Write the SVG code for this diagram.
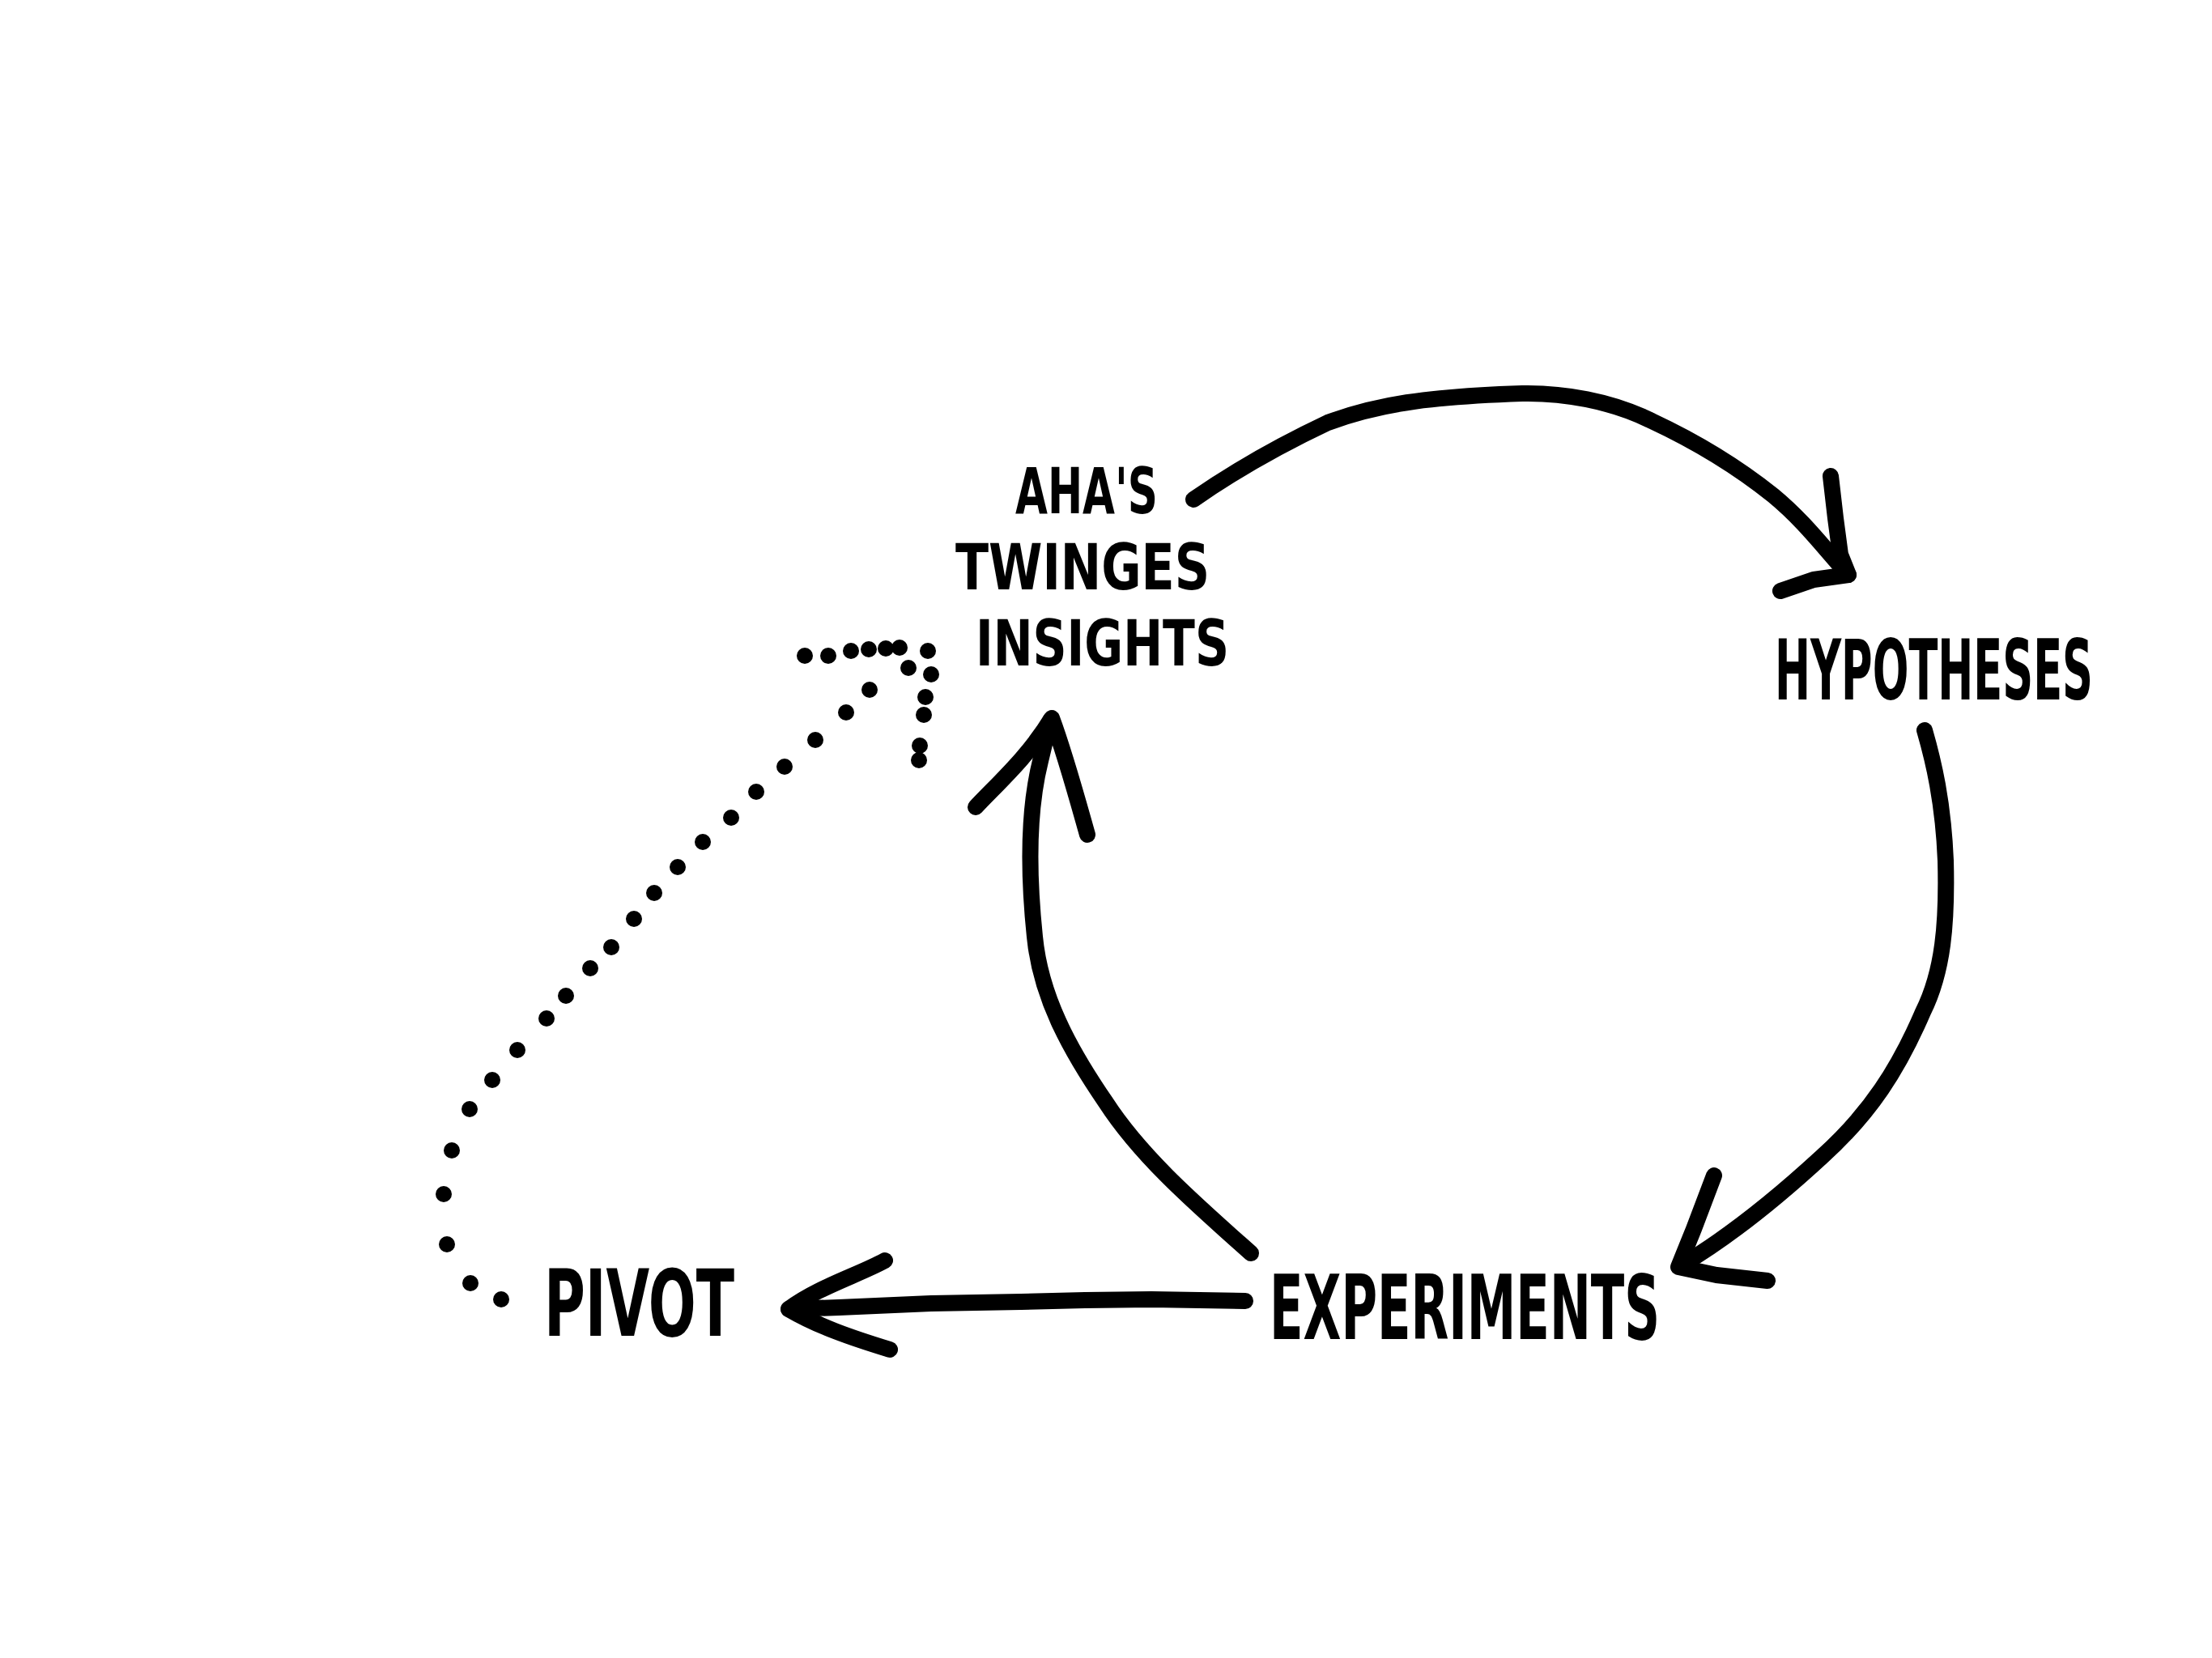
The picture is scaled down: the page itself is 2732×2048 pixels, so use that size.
<svg xmlns="http://www.w3.org/2000/svg" width="2732" height="2048" viewBox="0 0 2732 2048">
<style>
.bg{fill:#ffffff}
.lbl{font-family:"DejaVu Sans Condensed","DejaVu Sans","Liberation Sans",sans-serif;font-weight:bold;fill:#000}
.stack{font-size:79px}
.stroke{fill:none;stroke:#000;stroke-width:20;stroke-linecap:round;stroke-linejoin:round}
.dot{fill:#000}
</style>
<rect class="bg" x="0" y="0" width="2732" height="2048"/>
<g id="connectors">
  <g id="edge-insights-hypotheses">
    <path class="stroke" d="M1474,617 C1520,585 1570,555 1640,522 C1700,500 1760,490 1880,486 C1930,485 1990,495 2040,520 C2100,548 2150,580 2190,612 C2230,645 2255,680 2283,710"/>
    <path class="stroke" d="M2261,588 L2267,640 L2273,685 L2283,710 L2240,716 L2199,730"/>
  </g>
  <g id="edge-hypotheses-experiments">
    <path class="stroke" d="M2377,902 C2388,940 2400,990 2403,1063 C2405,1140 2400,1200 2375,1250 C2345,1320 2310,1375 2250,1429 C2200,1475 2140,1525 2078,1562"/>
    <path class="stroke" d="M2117,1452 L2092,1518 L2073,1565 L2120,1575 L2183,1582"/>
  </g>
  <g id="edge-experiments-insights">
    <path class="stroke" d="M1545,1548 C1480,1490 1410,1430 1366,1362 C1320,1295 1285,1230 1278,1157 C1270,1080 1270,1000 1285,940 L1297,890"/>
    <path class="stroke" d="M1205,997 C1230,970 1270,935 1299,887 C1315,930 1330,985 1343,1031"/>
  </g>
  <g id="edge-experiments-pivot">
    <path class="stroke" d="M1538,1607 L1422,1605 L1340,1606 L1261,1608 L1150,1610 L1036,1615 L974,1617"/>
    <path class="stroke" d="M1093,1557 C1060,1575 1010,1590 974,1617 C1010,1638 1050,1652 1099,1667"/>
  </g>
  <g id="edge-pivot-insights-dotted">
    <circle class="dot" cx="619" cy="1605" r="10"/>
    <circle class="dot" cx="581" cy="1585" r="10"/>
    <circle class="dot" cx="552" cy="1537" r="10"/>
    <circle class="dot" cx="548" cy="1475" r="10"/>
    <circle class="dot" cx="558" cy="1421" r="10"/>
    <circle class="dot" cx="580" cy="1370" r="10"/>
    <circle class="dot" cx="608" cy="1334" r="10"/>
    <circle class="dot" cx="639" cy="1297" r="10"/>
    <circle class="dot" cx="675" cy="1258" r="10"/>
    <circle class="dot" cx="699" cy="1230" r="10"/>
    <circle class="dot" cx="729" cy="1196" r="10"/>
    <circle class="dot" cx="755" cy="1170" r="10"/>
    <circle class="dot" cx="783" cy="1135" r="10"/>
    <circle class="dot" cx="808" cy="1103" r="10"/>
    <circle class="dot" cx="837" cy="1071" r="10"/>
    <circle class="dot" cx="868" cy="1040" r="10"/>
    <circle class="dot" cx="903" cy="1010" r="10"/>
    <circle class="dot" cx="934" cy="978" r="10"/>
    <circle class="dot" cx="969" cy="947" r="10"/>
    <circle class="dot" cx="1007" cy="914" r="10"/>
    <circle class="dot" cx="1045" cy="880" r="10"/>
    <circle class="dot" cx="1074" cy="852" r="10"/>
    <circle class="dot" cx="1122" cy="825" r="10"/>
    <circle class="dot" cx="994" cy="810" r="10"/>
    <circle class="dot" cx="1023" cy="810" r="10"/>
    <circle class="dot" cx="1051" cy="804" r="10"/>
    <circle class="dot" cx="1073" cy="802" r="10"/>
    <circle class="dot" cx="1094" cy="801" r="10"/>
    <circle class="dot" cx="1111" cy="800" r="10"/>
    <circle class="dot" cx="1146" cy="804" r="10"/>
    <circle class="dot" cx="1150" cy="833" r="10"/>
    <circle class="dot" cx="1143" cy="861" r="10"/>
    <circle class="dot" cx="1141" cy="883" r="10"/>
    <circle class="dot" cx="1136" cy="921" r="10"/>
    <circle class="dot" cx="1135" cy="939" r="10"/>
  </g>
</g>
<g id="node-insights">
  <text class="lbl stack" x="1254" y="634" textLength="176" lengthAdjust="spacingAndGlyphs">AHA'S</text>
  <text class="lbl stack" x="1180" y="728" textLength="314" lengthAdjust="spacingAndGlyphs">TWINGES</text>
  <text class="lbl stack" x="1205" y="822" textLength="313" lengthAdjust="spacingAndGlyphs">INSIGHTS</text>
</g>
<g id="node-hypotheses">
  <text class="lbl" font-size="58.5" transform="matrix(1,0,0,1.78,0,0)" x="2192" y="485.4" textLength="393" lengthAdjust="spacingAndGlyphs">HYPOTHESES</text>
</g>
<g id="node-experiments">
  <text class="lbl" font-size="67.5" transform="matrix(1,0,0,1.63,0,0)" x="1568" y="1014.7" textLength="482" lengthAdjust="spacingAndGlyphs">EXPERIMENTS</text>
</g>
<g id="node-pivot">
  <text class="lbl" font-size="76.5" transform="matrix(1,0,0,1.49,0,0)" x="672" y="1107.4" textLength="235" lengthAdjust="spacingAndGlyphs">PIVOT</text>
</g>
</svg>
